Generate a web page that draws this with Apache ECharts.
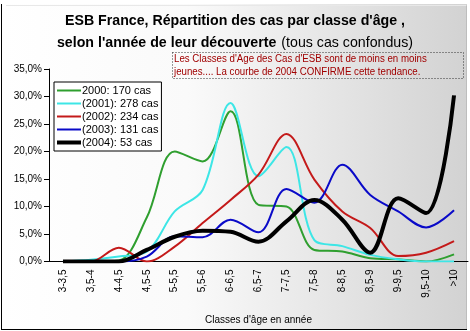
<!DOCTYPE html>
<html>
<head>
<meta charset="utf-8">
<script src="https://cdn.jsdelivr.net/npm/echarts@6/dist/echarts.min.js"></script>
<style>
  html, body { margin: 0; padding: 0; background: #ffffff; }
  #chart { width: 470px; height: 331px; }
</style>
</head>
<body>
<div id="chart"></div>
<script>
// Age classes (years)
const categories = ['3-3,5', '3,5-4', '4-4,5', '4,5-5', '5-5,5', '5,5-6', '6-6,5', '6,5-7',
  '7-7,5', '7,5-8', '8-8,5', '8,5-9', '9-9,5', '9,5-10', '>10'];

// Share of cases per age class, in percent, by year of discovery
const cases2000 = [0, 0, 0.2, 8.0, 20.0, 18.2, 27.3, 10.3, 10.0, 2.1, 1.8, 0.6, 0.4, 0, 1.3];
const cases2001 = [0, 0.3, 0.9, 1.8, 9.1, 13.0, 28.8, 15.5, 20.8, 3.9, 2.8, 1.2, 0.4, 0, 0];
const cases2002 = [0, 0, 2.5, 0, 2.7, 7.0, 11.2, 15.8, 23.2, 14.9, 9.1, 6.1, 1.0, 1.6, 3.7];
const cases2003 = [0, 0, 0, 0.9, 4.6, 4.4, 7.6, 5.3, 13.2, 10.7, 17.6, 12.1, 9.1, 6.2, 9.3];
const cases2004 = [0, 0, 0, 2.1, 4.5, 5.6, 5.4, 3.6, 7.3, 11.2, 7.6, 1.6, 11.5, 8.8, 30.2];

const yTicks = [0, 5, 10, 15, 20, 25, 30, 35];

const seriesNames = ['2000: 170 cas', '(2001): 278 cas', '(2002): 234 cas', '(2003): 131 cas', '(2004): 53 cas'];
const seriesData = [cases2000, cases2001, cases2002, cases2003, cases2004];
const seriesColors = ['#2f9f2f', '#3de6e6', '#c41a1a', '#0a0ac8', '#000000'];
const seriesWidths = [2, 2, 2, 2, 4];

const chart = echarts.init(document.getElementById('chart'), null, { renderer: 'canvas' });

const font = 'Arial, "Liberation Sans", sans-serif';

// legend swatch: a plain bar, thicker for the 2004 curve
const swatch = w => 'path://M0,0h' + (24 / w) + 'v1h-' + (24 / w) + 'z';

chart.setOption({
  animation: false,
  backgroundColor: '#ffffff',
  title: {
    left: 'center',
    top: 5,
    text: '{b|ESB France, Répartition des cas par classe d\'âge ,}\n{b|selon l\'année de leur découverte} {n|(tous cas confondus)}',
    textStyle: {
      rich: {
        b: { fontFamily: font, fontSize: 14.2, fontWeight: 'bold', color: '#000', lineHeight: 22 },
        n: { fontFamily: font, fontSize: 14.2, fontWeight: 'normal', color: '#000', lineHeight: 22 }
      }
    }
  },
  graphic: [
    // panel background with gradient
    {
      type: 'rect', z: -10, silent: true,
      shape: { x: 1, y: 4, width: 466, height: 326 },
      style: {
        fill: new echarts.graphic.LinearGradient(0, 0, 1, 0, [
          { offset: 0, color: '#ffffff' },
          { offset: 0.4, color: '#fafafa' },
          { offset: 1, color: '#d2d2d2' }
        ]),
        stroke: null
      }
    },
    { type: 'line', z: -9, silent: true, shape: { x1: 1.5, y1: 4, x2: 1.5, y2: 329.5 }, style: { stroke: '#000', lineWidth: 1 } },
    { type: 'line', z: -9, silent: true, shape: { x1: 1, y1: 329.5, x2: 467, y2: 329.5 }, style: { stroke: '#000', lineWidth: 1 } },
    { type: 'line', z: -9, silent: true, shape: { x1: 6, y1: 5.5, x2: 466.5, y2: 5.5 }, style: { stroke: '#e8e8e8', lineWidth: 1 } },
    { type: 'line', z: -9, silent: true, shape: { x1: 466.5, y1: 5.5, x2: 466.5, y2: 329 }, style: { stroke: '#bdbdbd', lineWidth: 1 } },
    // annotation box
    {
      type: 'rect', z: 5, silent: true,
      shape: { x: 172.5, y: 52.5, width: 291, height: 26 },
      style: { fill: null, stroke: '#333', lineWidth: 1, lineDash: [1, 2] }
    },
    {
      type: 'text', z: 6, silent: true,
      x: 174, y: 53,
      scaleX: 0.97, originX: 0,
      style: {
        text: 'Les Classes d\'Age des Cas d\'ESB sont de moins en moins\njeunes.... La courbe de 2004 CONFIRME cette tendance.',
        fill: '#a00000',
        font: '10px ' + font,
        lineHeight: 13,
        verticalAlign: 'top'
      }
    }
  ],
  legend: {
    orient: 'vertical',
    left: 54,
    top: 82,
    data: seriesNames.map((n, i) => ({ name: n, icon: swatch(seriesWidths[i]) })),
    backgroundColor: '#ffffff',
    borderColor: '#000',
    borderWidth: 1,
    padding: [3, 3, 3, 3],
    itemWidth: 24,
    itemHeight: 11,
    itemGap: 2,
    textStyle: { fontFamily: font, fontSize: 11, color: '#000', padding: [0, 0, 0, -4] }
  },
  grid: { left: 49, right: 2, top: 69, bottom: 69.5, containLabel: false },
  xAxis: {
    type: 'category',
    data: categories,
    boundaryGap: true,
    name: 'Classes d\'âge en année',
    nameLocation: 'middle',
    nameGap: 54,
    nameTextStyle: { fontFamily: font, fontSize: 10, color: '#000' },
    axisLine: { lineStyle: { color: '#000', width: 1 } },
    axisTick: { length: 4, lineStyle: { color: '#000' } },
    axisLabel: { rotate: 90, margin: 8, fontFamily: font, fontSize: 10, color: '#000', interval: 0 },
    splitLine: { show: false }
  },
  yAxis: {
    type: 'value',
    min: yTicks[0],
    max: yTicks[yTicks.length - 1],
    interval: 5,
    axisLine: { show: true, lineStyle: { color: '#000', width: 1 } },
    axisTick: { show: true, length: 5, lineStyle: { color: '#000' } },
    axisLabel: {
      margin: 7,
      fontFamily: font, fontSize: 10, color: '#000',
      formatter: v => v.toFixed(1).replace('.', ',') + '%'
    },
    splitLine: { show: false }
  },
  series: seriesNames.map((name, i) => ({
    name: name,
    type: 'line',
    data: seriesData[i],
    smooth: 0.35,
    symbol: 'none',
    showSymbol: false,
    z: i === 4 ? 4 : 3,
    lineStyle: { color: seriesColors[i], width: seriesWidths[i] },
    itemStyle: { color: seriesColors[i] }
  }))
});
</script>
</body>
</html>
